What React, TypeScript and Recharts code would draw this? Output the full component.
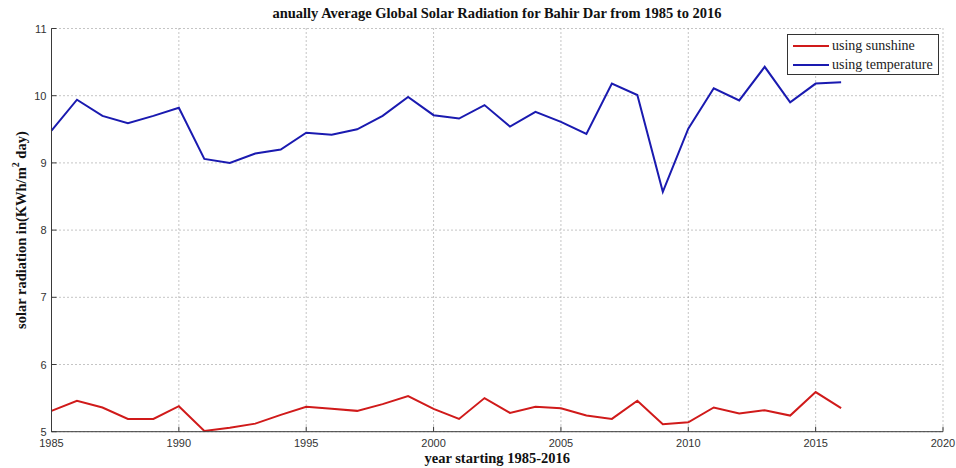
import React from "react";
import { LineChart, Line, XAxis, YAxis, CartesianGrid } from "recharts";

// Annual average global solar radiation, Bahir Dar (kWh/m² day)
const years = [
  1985, 1986, 1987, 1988, 1989, 1990, 1991, 1992, 1993, 1994, 1995, 1996,
  1997, 1998, 1999, 2000, 2001, 2002, 2003, 2004, 2005, 2006, 2007, 2008,
  2009, 2010, 2011, 2012, 2013, 2014, 2015, 2016,
];
const sunshine = [
  5.31, 5.46, 5.36, 5.19, 5.19, 5.38, 5.01, 5.06, 5.12, 5.25, 5.37, 5.34,
  5.31, 5.41, 5.53, 5.34, 5.19, 5.5, 5.28, 5.37, 5.35, 5.24, 5.19, 5.46,
  5.11, 5.14, 5.36, 5.27, 5.32, 5.24, 5.59, 5.35,
];
const temperature = [
  9.48, 9.94, 9.7, 9.59, 9.7, 9.82, 9.06, 9.0, 9.14, 9.2, 9.45, 9.42,
  9.5, 9.7, 9.98, 9.71, 9.66, 9.86, 9.54, 9.76, 9.61, 9.43, 10.18, 10.01,
  8.57, 9.51, 10.11, 9.93, 10.43, 9.9, 10.18, 10.2,
];
const xTicks = [1985, 1990, 1995, 2000, 2005, 2010, 2015, 2020];
const yTicks = [5, 6, 7, 8, 9, 10, 11];
const seriesLabels = ["using sunshine", "using temperature"];

const data = years.map((year, i) => ({
  year,
  sunshine: sunshine[i],
  temperature: temperature[i],
}));

const RED = "#d01a1a";
const BLUE = "#1a1ab0";
const AXIS = "#3a3a3a";
const SERIF = "'Liberation Serif', 'DejaVu Serif', serif";
const SANS = "'Liberation Sans', Arial, sans-serif";

const XTick = (props: any) => {
  const { x, y, payload } = props;
  return (
    <g>
      <line x1={x} x2={x} y1={y} y2={y - 5} stroke={AXIS} strokeWidth={1} />
      <text x={x} y={y + 15} textAnchor="middle" fontFamily={SANS} fontSize={11} fill="#333">
        {payload.value}
      </text>
    </g>
  );
};

const YTick = (props: any) => {
  const { x, y, payload } = props;
  return (
    <g>
      <line x1={x} x2={x + 5} y1={y} y2={y} stroke={AXIS} strokeWidth={1} />
      <text x={x - 5} y={y + 4} textAnchor="end" fontFamily={SANS} fontSize={11} fill="#333">
        {payload.value}
      </text>
    </g>
  );
};

const XLabel = (props: any) => {
  const { viewBox } = props;
  const cx = viewBox.x + viewBox.width / 2;
  return (
    <text x={cx} y={viewBox.y + 31} textAnchor="middle" fontFamily={SERIF} fontWeight="bold" fontSize={14.5} fill="#111">
      year starting 1985-2016
    </text>
  );
};

const YLabel = (props: any) => {
  const { viewBox } = props;
  const cy = viewBox.y + viewBox.height / 2;
  const cx = 26;
  return (
    <text
      x={cx}
      y={cy}
      transform={`rotate(-90 ${cx} ${cy})`}
      textAnchor="middle"
      fontFamily={SERIF}
      fontWeight="bold"
      fontSize={14.5}
      fill="#111"
    >
      solar radiation in(KWh/m
      <tspan dy={-7} fontSize={10}>2</tspan>
      <tspan dy={7}> day)</tspan>
    </text>
  );
};

const LegendBox = () => (
  <div
    style={{
      position: "absolute",
      left: 787,
      top: 34,
      width: 152,
      height: 41,
      border: "1px solid #333",
      background: "#fff",
      boxSizing: "border-box",
      fontFamily: SERIF,
      fontSize: 14,
      color: "#222",
    }}
  >
    {[RED, BLUE].map((color, i) => (
      <div
        key={seriesLabels[i]}
        style={{ position: "absolute", left: 5, top: 3 + i * 19, display: "flex", alignItems: "center", height: 16 }}
      >
        <span style={{ display: "inline-block", width: 36, height: 2, background: color, marginRight: 3 }} />
        <span style={{ whiteSpace: "nowrap" }}>{seriesLabels[i]}</span>
      </div>
    ))}
  </div>
);

export default function App() {
  return (
    <div style={{ position: "absolute", left: 0, top: 0, width: 956, height: 468, background: "#fff" }}>
      <LineChart
        width={956}
        height={468}
        data={data}
        margin={{ top: 28.5, right: 13, bottom: 0, left: 0 }}
      >
        <CartesianGrid stroke="#8a8a8a" strokeDasharray="1 3" strokeWidth={1} />
        <XAxis
          dataKey="year"
          type="number"
          domain={[1985, 2020]}
          ticks={xTicks}
          height={36.3}
          tickSize={0}
          tickMargin={0}
          tickLine={false}
          stroke={AXIS}
          tick={<XTick />}
          interval={0}
          label={<XLabel />}
        />
        <YAxis
          type="number"
          domain={[5, 11]}
          ticks={yTicks}
          width={51.5}
          tickSize={0}
          tickMargin={0}
          tickLine={false}
          stroke={AXIS}
          tick={<YTick />}
          interval={0}
          label={<YLabel />}
        />
        <Line
          type="linear"
          dataKey="sunshine"
          name={seriesLabels[0]}
          stroke={RED}
          strokeWidth={2}
          dot={false}
          isAnimationActive={false}
        />
        <Line
          type="linear"
          dataKey="temperature"
          name={seriesLabels[1]}
          stroke={BLUE}
          strokeWidth={2}
          dot={false}
          isAnimationActive={false}
        />
      </LineChart>
      <div
        style={{
          position: "absolute",
          left: 0,
          width: 994,
          top: 5,
          textAlign: "center",
          fontFamily: SERIF,
          fontWeight: "bold",
          fontSize: 14.5,
          color: "#111",
          whiteSpace: "nowrap",
        }}
      >
        anually Average Global Solar Radiation for Bahir Dar from 1985 to 2016
      </div>
      <LegendBox />
    </div>
  );
}
